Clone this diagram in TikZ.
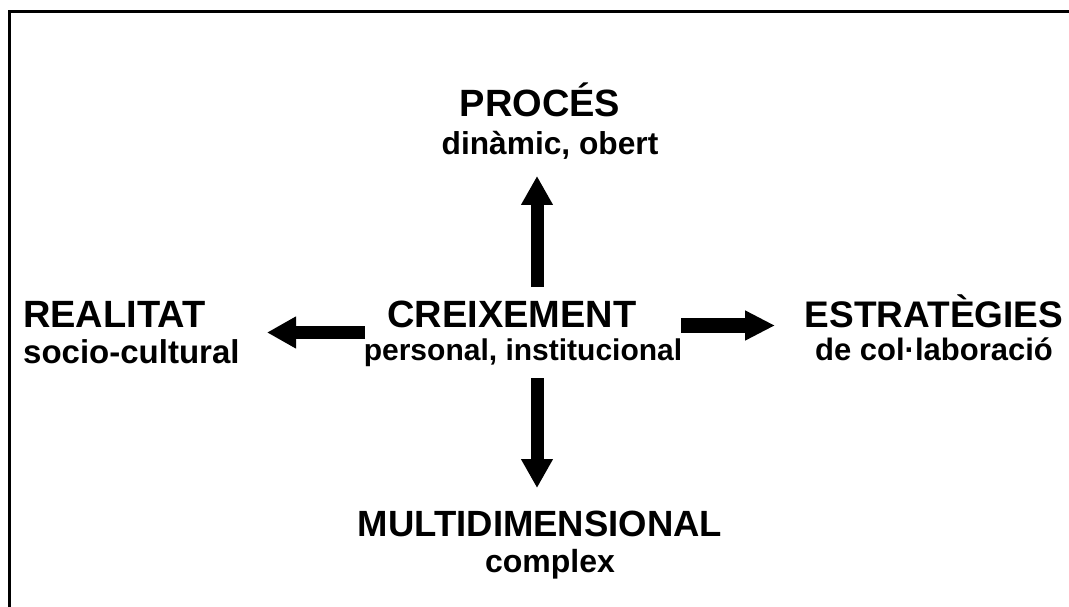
\documentclass[tikz,border=0pt]{standalone}
\usepackage{fontspec}
\setmainfont{Liberation Sans}
\usetikzlibrary{arrows.meta}
\tikzset{
  captext/.style={inner sep=0pt, font=\fontsize{38}{42}\selectfont\bfseries},
  subtext/.style={inner sep=0pt, font=\fontsize{32}{38}\selectfont\bfseries},
  bigarrow/.style={line width=13pt, -{Triangle[width=30pt,length=29pt]}},
  frameline/.style={line width=3pt}
}
\begin{document}
\begin{tikzpicture}[x=1pt,y=-1pt]
\useasboundingbox (0,0) rectangle (1069,607);
% frame (only top and left visible)
\coordinate (fbl) at (9,607);
\coordinate (ftl) at (9,12);
\coordinate (ftr) at (1069,12);
\draw[frameline] (fbl) -- (ftl) -- (ftr);
% texts
\node[captext, anchor=base] (proces) at (540,117) {PROCÉS};
\node[subtext, anchor=base, font=\fontsize{31.7}{36}\selectfont\bfseries] (procsub) at (550,155) {dinàmic, obert};
\node[captext, anchor=base west] (real) at (23,327) {REALITAT};
\node[subtext, anchor=base west, font=\fontsize{33}{38}\selectfont\bfseries] (realsub) at (23,363) {socio-cultural};
\node[captext, anchor=base] (creix) at (512,327) {CREIXEMENT};
\node[subtext, anchor=base, font=\fontsize{30}{36}\selectfont\bfseries] (creixsub) at (523,360) {personal, institucional};
\node[captext, anchor=base, font=\fontsize{37}{42}\selectfont\bfseries] (estr) at (934,327) {ESTRATÈGIES};
\node[subtext, anchor=base, font=\fontsize{31}{36}\selectfont\bfseries] (estrsub) at (934,360) {de col·laboració};
\node[captext, anchor=base, font=\fontsize{36.5}{42}\selectfont\bfseries] (multi) at (540,536) {MULTIDIMENSIONAL};
\node[subtext, anchor=base] (multisub) at (550,572) {complex};
% arrow end points
\coordinate (upS) at (537,287);
\coordinate (upE) at (537,176);
\coordinate (dnS) at (537,378);
\coordinate (dnE) at (537,488);
\coordinate (lfS) at (365,332.5);
\coordinate (lfE) at (267,332.5);
\coordinate (rtS) at (681,325.5);
\coordinate (rtE) at (775,325.5);
\draw[bigarrow] (upS) -- (upE);
\draw[bigarrow] (dnS) -- (dnE);
\draw[bigarrow] (lfS) -- (lfE);
\draw[bigarrow, line width=15pt, -{Triangle[width=28pt,length=30pt]}] (rtS) -- (rtE);
\end{tikzpicture}
\end{document}
